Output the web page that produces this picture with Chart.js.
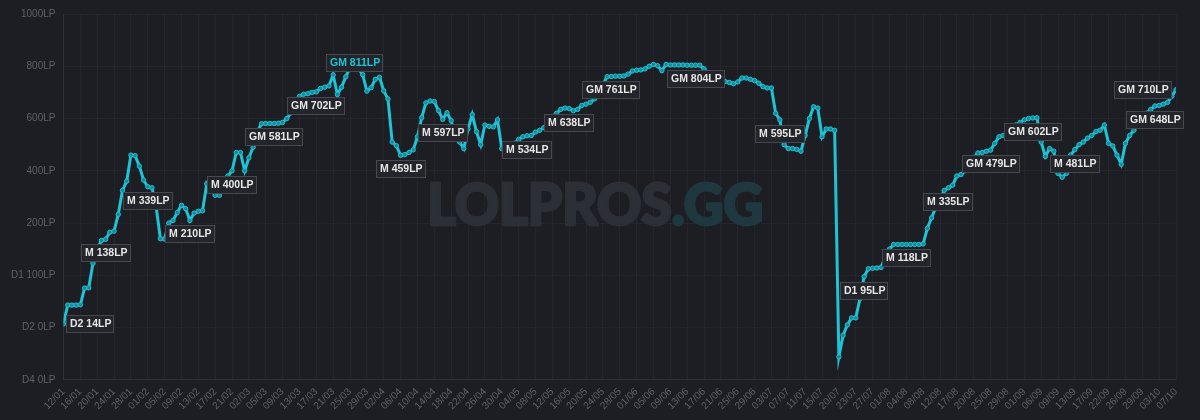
<!DOCTYPE html>
<html>
<head>
<meta charset="utf-8">
<title>LP history</title>
<style>
  html, body { margin: 0; padding: 0; background: #1c1e23; }
  #wrap { width: 1200px; height: 420px; position: relative; }
</style>
<script src="https://cdn.jsdelivr.net/npm/chart.js"></script>
</head>
<body>
<div id="wrap"><canvas id="lpChart"></canvas></div>
<script>
// date shown under every 4th game
const dateTicks = [
  '12/01','16/01','20/01','24/01','28/01','01/02','05/02','09/02','13/02','17/02','21/02',
  '02/03','05/03','09/03','13/03','17/03','21/03','25/03','29/03','02/04','06/04','10/04',
  '14/04','18/04','22/04','26/04','30/04','04/05','08/05','12/05','16/05','20/05','24/05',
  '28/05','01/06','05/06','09/06','13/06','17/06','21/06','25/06','29/06','03/07','07/07',
  '11/07','15/07','20/07','23/07','27/07','01/08','04/08','08/08','12/08','17/08','20/08',
  '25/08','29/08','01/09','06/09','09/09','13/09','17/09','22/09','26/09','29/09','03/10','07/10'
];
const pointsPerTick = 4;

// y axis: 0 = D4 0LP, 200 = D2 0LP, 400 = Master 0LP ...
const rankTicks = ['D4 0LP', 'D2 0LP', 'D1 100LP', '200LP', '400LP', '600LP', '800LP', '1000LP'];
const rankStep = 200;

const lpValues = [
  214, 286, 286, 286, 287, 351, 352, 446, 500, 533,
  538, 565, 569, 633, 725, 760, 860, 858, 818, 765,
  739, 735, 660, 540, 539, 600, 610, 640, 668, 655,
  610, 638, 645, 647, 750, 725, 706, 706, 740, 780,
  800, 870, 870, 800, 850, 890, 950, 980, 981, 981,
  981, 982, 985, 1000, 1022, 1055, 1085, 1093, 1095, 1100,
  1102, 1115, 1120, 1125, 1167, 1092, 1120, 1160, 1195, 1211,
  1190, 1168, 1105, 1118, 1150, 1158, 1106, 1075, 910, 896,
  859, 862, 870, 880, 930, 1003, 1060, 1067, 1065, 1030,
  997, 1022, 992, 925, 910, 885, 960, 1015, 950, 900,
  975, 970, 968, 995, 885, 888, 895, 905, 920, 930,
  934, 935, 948, 955, 965, 992, 1005, 1020, 1035, 1040,
  1038, 1030, 1035, 1050, 1055, 1062, 1075, 1100, 1130, 1160,
  1161, 1162, 1162, 1163, 1170, 1182, 1185, 1186, 1190, 1200,
  1207, 1202, 1183, 1207, 1205, 1205, 1205, 1205, 1204, 1204,
  1204, 1204, 1190, 1175, 1160, 1150, 1145, 1142, 1138, 1133,
  1140, 1155, 1155, 1150, 1145, 1135, 1122, 1117, 1117, 1020,
  995, 900, 885, 885, 882, 875, 935, 1000, 1045, 1040,
  930, 960, 960, 955, 88, 170, 210, 237, 237, 310,
  395, 425, 427, 428, 430, 470, 500, 518, 518, 518,
  518, 518, 518, 518, 520, 580, 620, 660, 690, 725,
  735, 745, 780, 786, 800, 825, 850, 868, 870, 875,
  879, 905, 930, 935, 950, 965, 975, 985, 995, 1000,
  1002, 1003, 910, 855, 885, 875, 790, 775, 790, 860,
  881, 900, 910, 925, 935, 950, 955, 975, 905, 895,
  860, 825, 905, 935, 955, 980, 1000, 1020, 1035, 1048,
  1050, 1055, 1062, 1085, 1110
];

// rank tags shown on the line
const tagIndex = [0, 10, 20, 30, 40, 50, 60, 69, 80, 90, 110, 120, 130, 150, 170, 190, 200, 210, 220, 230, 240, 259, 264];
const tagText = ['D2 14LP', 'M 138LP', 'M 339LP', 'M 210LP', 'M 400LP', 'GM 581LP', 'GM 702LP', 'GM 811LP',
  'M 459LP', 'M 597LP', 'M 534LP', 'M 638LP', 'GM 761LP', 'GM 804LP', 'M 595LP', 'D1 95LP', 'M 118LP',
  'M 335LP', 'GM 479LP', 'GM 602LP', 'M 481LP', 'GM 648LP', 'GM 710LP'];

const lineColor = '#1fc3d6';

// big watermark behind the line
const watermark = {
  id: 'watermark',
  beforeDatasetsDraw(chart) {
    const { ctx, chartArea } = chart;
    const a = 'LOLPROS', b = '.GG';
    ctx.save();
    ctx.font = '900 60px Lato, sans-serif';
    const wa = ctx.measureText(a).width, wb = ctx.measureText(b).width;
    const s = 336 / (wa + wb);
    const x0 = chartArea.left + (chartArea.right - chartArea.left) * 0.327;
    const y0 = chartArea.top + (chartArea.bottom - chartArea.top) * 0.525;
    ctx.translate(x0, y0);
    ctx.scale(s, s * 1.05);
    ctx.textBaseline = 'middle';
    ctx.lineJoin = 'round';
    ctx.lineWidth = 3;
    ctx.fillStyle = ctx.strokeStyle = '#2c2f35';
    ctx.strokeText(a, 0, 0);
    ctx.fillText(a, 0, 0);
    ctx.fillStyle = ctx.strokeStyle = '#1f3840';
    ctx.strokeText(b, wa, 0);
    ctx.fillText(b, wa, 0);
    ctx.restore();
  }
};

// boxed LP tags: below the point, first one to the right, last one to the left
const rankTags = {
  id: 'rankTags',
  afterDatasetsDraw(chart) {
    const { ctx, scales } = chart;
    const peak = Math.max(...lpValues);
    const last = lpValues.length - 1;
    ctx.save();
    ctx.font = 'bold 10.5px "Liberation Sans", Arial, sans-serif';
    ctx.textBaseline = 'middle';
    tagIndex.forEach((idx, n) => {
      const px = scales.x.getPixelForValue(idx);
      const py = scales.y.getPixelForValue(lpValues[idx]);
      const text = tagText[n];
      const w = Math.round(ctx.measureText(text).width + 7), h = 18;
      const isPeak = lpValues[idx] === peak;
      let bx = px - w / 2, by = py + 5;
      if (isPeak) by = py - h / 2;
      if (idx === 0) { bx = px + 3; by = py - h / 2; }
      else if (idx === last) { bx = px - 4 - w; by = py - h / 2; }
      bx = Math.round(bx); by = Math.round(by);
      ctx.fillStyle = '#23252a';
      ctx.fillRect(bx, by, w, h);
      ctx.strokeStyle = '#45484e';
      ctx.lineWidth = 1;
      ctx.strokeRect(bx + 0.5, by + 0.5, w - 1, h - 1);
      ctx.fillStyle = isPeak ? lineColor : '#e6e6e6';
      ctx.fillText(text, bx + 4, by + h / 2 + 0.5);
    });
    ctx.restore();
  }
};

const ctx = document.getElementById('lpChart').getContext('2d');
new Chart(ctx, {
  type: 'line',
  data: {
    datasets: [{
      data: lpValues.map((v, i) => ({ x: i, y: v })),
      borderColor: lineColor,
      borderWidth: 3,
      pointRadius: 2.2,
      pointBorderWidth: 1,
      pointBorderColor: lineColor,
      pointBackgroundColor: '#178a98',
      tension: 0
    }]
  },
  options: {
    responsive: true,
    maintainAspectRatio: false,
    animation: false,
    layout: { padding: { left: 3, right: 24, top: 3, bottom: 2 } },
    plugins: { legend: { display: false }, tooltip: { enabled: false } },
    scales: {
      x: {
        type: 'linear',
        min: 0,
        max: (dateTicks.length - 1) * pointsPerTick,
        grid: { color: 'rgba(255,255,255,0.035)', drawTicks: false },
        border: { color: 'rgba(255,255,255,0.06)' },
        ticks: {
          stepSize: pointsPerTick,
          autoSkip: false,
          maxRotation: 45,
          minRotation: 45,
          padding: 6,
          color: '#5e6167',
          font: { size: 10, family: '"Liberation Sans", Arial, sans-serif' },
          callback: v => dateTicks[v / pointsPerTick]
        }
      },
      y: {
        min: 0,
        max: rankStep * (rankTicks.length - 1),
        grid: { color: 'rgba(255,255,255,0.035)', drawTicks: false },
        border: { color: 'rgba(255,255,255,0.06)' },
        ticks: {
          stepSize: rankStep,
          padding: 8,
          color: '#5e6167',
          font: { size: 10, family: '"Liberation Sans", Arial, sans-serif' },
          callback: v => rankTicks[v / rankStep]
        }
      }
    }
  },
  plugins: [watermark, rankTags]
});
</script>
</body>
</html>
